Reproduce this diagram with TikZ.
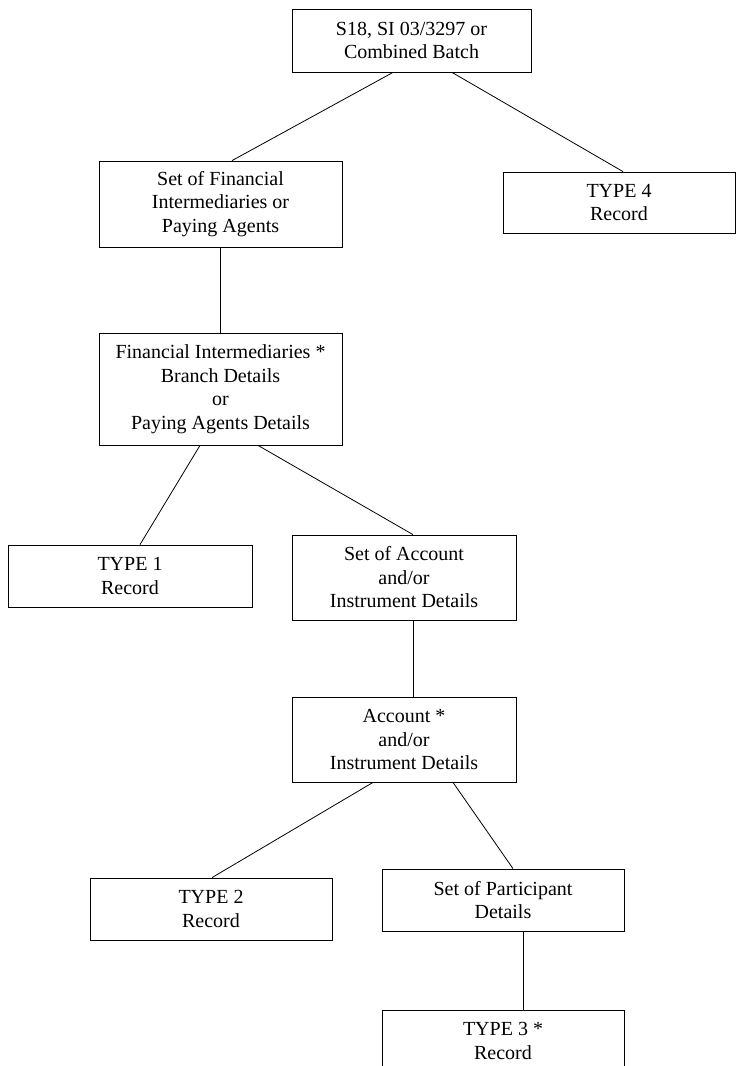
\documentclass[tikz,border=0pt]{standalone}
\usepackage{fontspec}
\setmainfont{Liberation Serif}
\begin{document}
\begin{tikzpicture}[x=1pt,y=-1pt,
    box/.style={draw,line width=0.8pt,inner sep=0pt,align=center,font=\fontsize{20}{23.5}\selectfont},
    link/.style={line width=0.8pt}]
    \useasboundingbox (0,0) rectangle (736,1066);
    \node[box,minimum width=239,minimum height=63](batch) at (411.5,40.5){S18, SI 03/3297 or\\Combined Batch};
    \node[box,minimum width=243,minimum height=86](setfin) at (220.5,204){Set of Financial\\Intermediaries or\\Paying Agents};
    \node[box,minimum width=232,minimum height=61](type4) at (619,202.5){TYPE 4\\Record};
    \node[box,minimum width=243,minimum height=112](finint) at (220.5,389){Financial Intermediaries *\\Branch Details\\or\\Paying Agents Details};
    \node[box,minimum width=244,minimum height=62](type1) at (130,576){TYPE 1\\Record};
    \node[box,minimum width=224,minimum height=85](setacc) at (404,577.5){Set of Account\\and/or\\Instrument Details};
    \node[box,minimum width=224,minimum height=85](acc) at (404,739.5){Account *\\and/or\\Instrument Details};
    \node[box,minimum width=242,minimum height=62](type2) at (211,909){TYPE 2\\Record};
    \node[box,minimum width=242,minimum height=62](setpart) at (503,900){Set of Participant\\Details};
    \node[box,minimum width=242,minimum height=62](type3) at (503,1041){TYPE 3 *\\Record};
    \draw[link]([xshift=-18.5]batch.south)--([xshift=11.5]setfin.north);
    \draw[link]([xshift=40.5]batch.south)--([xshift=4]type4.north);
    \draw[link](setfin.south)--(finint.north);
    \draw[link]([xshift=-20.5]finint.south)--([xshift=10]type1.north);
    \draw[link]([xshift=37.5]finint.south)--([xshift=9]setacc.north);
    \draw[link]([xshift=9]setacc.south)--([xshift=9]acc.north);
    \draw[link]([xshift=-31]acc.south)--([xshift=1]type2.north);
    \draw[link]([xshift=49]acc.south)--([xshift=10]setpart.north);
    \draw[link]([xshift=20]setpart.south)--([xshift=20]type3.north);
\end{tikzpicture}
\end{document}
